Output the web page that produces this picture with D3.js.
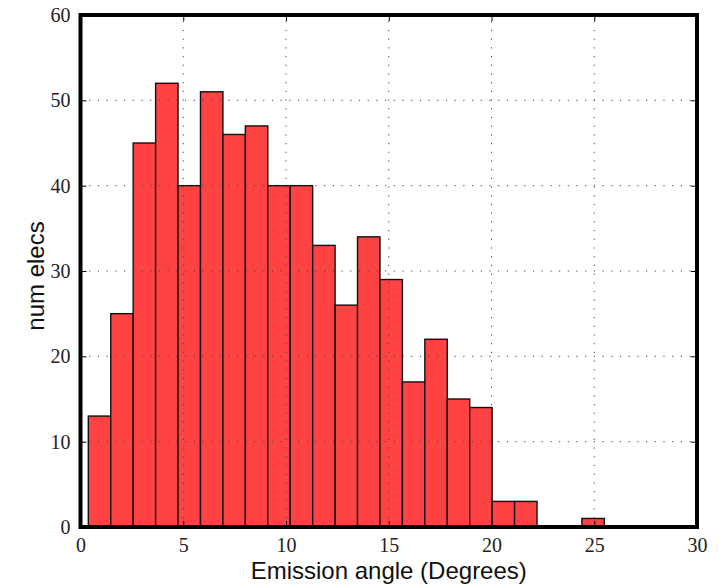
<!DOCTYPE html>
<html>
<head>
<meta charset="utf-8">
<script src="https://cdn.jsdelivr.net/npm/d3@7"></script>
<style>
  html, body { margin: 0; padding: 0; background: #fff; }
  svg { display: block; }
</style>
</head>
<body>
<svg id="chart" width="719" height="586"></svg>
<script>
// Histogram of electron emission angles
const counts = [13, 25, 45, 52, 40, 51, 46, 47, 40, 40, 33, 26, 34, 29, 17, 22, 15, 14, 3, 3, 0, 0, 1];
const binRange = [0.38, 25.49];           // data min / max covered by the bins
const xTicks = [0, 5, 10, 15, 20, 25, 30];
const yTicks = [0, 10, 20, 30, 40, 50, 60];
const xLabel = "Emission angle (Degrees)";
const yLabel = "num elecs";

const plotL = 80.5, plotR = 697, plotT = 15, plotB = 527;
const svg = d3.select("#chart");

const x = d3.scaleLinear().domain([0, 30]).range([plotL, plotR]);
const y = d3.scaleLinear().domain([0, 60]).range([plotB, plotT]);

const binW = (binRange[1] - binRange[0]) / counts.length;
const bins = counts.map((c, i) => ({
  x0: binRange[0] + i * binW,
  x1: binRange[0] + (i + 1) * binW,
  count: c
}));

// bars
svg.append("g")
  .selectAll("rect")
  .data(bins.filter(d => d.count > 0))
  .join("rect")
  .attr("x", d => x(d.x0))
  .attr("y", d => y(d.count))
  .attr("width", d => x(d.x1) - x(d.x0))
  .attr("height", d => y(0) - y(d.count))
  .attr("fill", "#ff4242")
  .attr("stroke", "#111")
  .attr("stroke-width", 1.4);

// dotted grid, drawn over the bars
const grid = svg.append("g")
  .attr("stroke", "#444")
  .attr("stroke-width", 1)
  .attr("stroke-dasharray", "1.2,7.5");
grid.selectAll("line.gx")
  .data(xTicks.slice(1, -1))
  .join("line")
  .attr("class", "gx")
  .attr("x1", d => x(d)).attr("x2", d => x(d))
  .attr("y1", plotB).attr("y2", plotT);
grid.selectAll("line.gy")
  .data(yTicks.slice(1, -1))
  .join("line")
  .attr("class", "gy")
  .attr("y1", d => y(d)).attr("y2", d => y(d))
  .attr("x1", plotL).attr("x2", plotR);

// axes with inward ticks on all four sides
const tickFont = "'Liberation Serif', 'DejaVu Serif', serif";

const xAxis = svg.append("g")
  .attr("transform", `translate(0,${plotB})`)
  .call(d3.axisBottom(x).tickValues(xTicks).tickSizeInner(-6).tickSizeOuter(0).tickPadding(10));
const yAxis = svg.append("g")
  .attr("transform", `translate(${plotL},0)`)
  .call(d3.axisLeft(y).tickValues(yTicks).tickSizeInner(-6).tickSizeOuter(0).tickPadding(10));
const xTop = svg.append("g")
  .attr("transform", `translate(0,${plotT})`)
  .call(d3.axisTop(x).tickValues(xTicks).tickSizeInner(-6).tickSizeOuter(0).tickFormat(""));
const yRight = svg.append("g")
  .attr("transform", `translate(${plotR},0)`)
  .call(d3.axisRight(y).tickValues(yTicks).tickSizeInner(-6).tickSizeOuter(0).tickFormat(""));

[xAxis, yAxis, xTop, yRight].forEach(g => {
  g.select(".domain").remove();
  g.selectAll(".tick line").attr("stroke", "#000").attr("stroke-width", 1);
  g.selectAll(".tick text")
    .attr("font-family", tickFont)
    .attr("font-size", 20)
    .attr("fill", "#222");
});
xAxis.selectAll(".tick text").attr("dy", "0.75em").attr("y", 10);
yAxis.selectAll(".tick text").attr("dy", "0.33em").attr("x", -10);

// frame
svg.append("rect")
  .attr("x", plotL).attr("y", plotT)
  .attr("width", plotR - plotL).attr("height", plotB - plotT)
  .attr("fill", "none")
  .attr("stroke", "#000")
  .attr("stroke-width", 4);

// axis titles
const labelFont = "'Liberation Sans', Arial, Helvetica, sans-serif";
svg.append("text")
  .attr("x", (plotL + plotR) / 2)
  .attr("y", 579)
  .attr("text-anchor", "middle")
  .attr("font-family", labelFont)
  .attr("font-size", 24)
  .attr("fill", "#111")
  .text(xLabel);
svg.append("text")
  .attr("transform", `translate(44,${(plotT + plotB) / 2 + 5}) rotate(-90)`)
  .attr("text-anchor", "middle")
  .attr("font-family", labelFont)
  .attr("font-size", 24)
  .attr("fill", "#111")
  .text(yLabel);
</script>
</body>
</html>
